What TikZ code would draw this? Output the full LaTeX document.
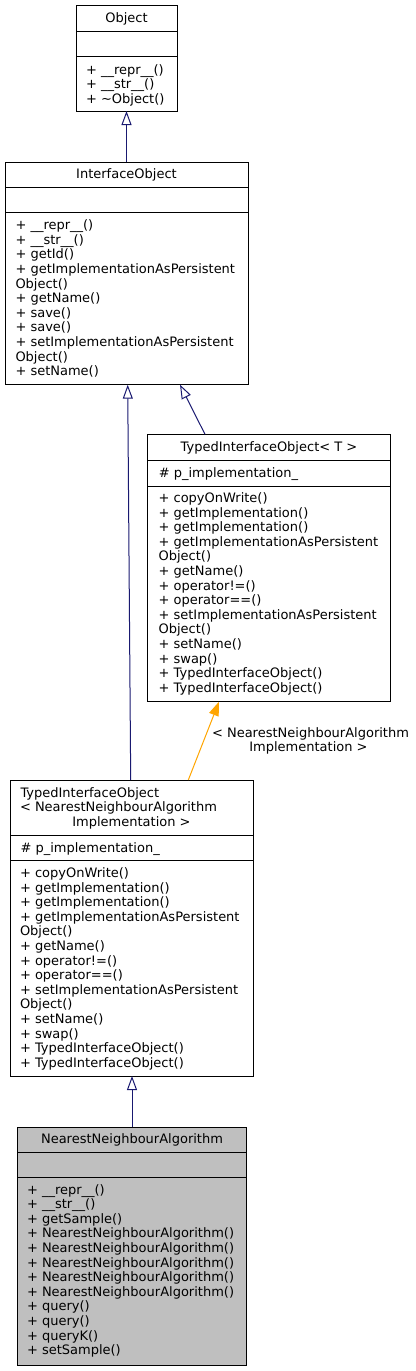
\documentclass[tikz,border=0pt]{standalone}
\usepackage{fontspec}
\setmainfont{DejaVu Sans}
\usetikzlibrary{arrows.meta,fit,calc}
\definecolor{edgeblue}{HTML}{191970}
\definecolor{edgeorange}{HTML}{FFA500}
\definecolor{nnagray}{HTML}{BFBFBF}
\newcommand{\umlfont}{\fontsize{9.75pt}{11pt}\selectfont}
\newcommand{\memberlines}[4]{%
  \foreach \mtext [count=\mi from 0] in {#4} {
    \node[txt] (#1\mi) at (#2, {#3+\mi*14.6}) {\mtext};
  }%
}
\begin{document}
\begin{tikzpicture}[x=0.75pt,y=-0.75pt,
  umlbox/.style={draw=black, line width=0.75pt, inner sep=0pt, outer sep=0pt},
  graybox/.style={umlbox, fill=nnagray},
  txt/.style={anchor=base west, inner sep=0pt, outer sep=0pt, font=\umlfont},
  ctxt/.style={anchor=base, inner sep=0pt, outer sep=0pt, font=\umlfont},
  inherit/.style={draw=edgeblue, line width=0.75pt, -{Triangle[open, length=10.5pt, width=7.5pt]}},
  tmpl/.style={draw=edgeorange, line width=0.75pt, -{Triangle[length=10.5pt, width=7.5pt]}},
]
\useasboundingbox (0,0) rectangle (415,1371);

% ---------- Object ----------
\node[umlbox, fit={(76,5.5) (177,31.7)}] (objt) {};
\node[umlbox, fit={(76,31.7) (177,56.7)}] (obja) {};
\node[umlbox, fit={(76,56.7) (177,111)}] (objm) {};
\node[ctxt] (objtitle) at (126.5,22) {Object};
\memberlines{objl}{86}{74}{+ \_\_repr\_\_(), + \_\_str\_\_(), + \textasciitilde Object()}

% ---------- InterfaceObject ----------
\node[umlbox, fit={(5,162) (248,187.7)}] (iot) {};
\node[umlbox, fit={(5,187.7) (248,212.7)}] (ioa) {};
\node[umlbox, fit={(5,212.7) (248,384.7)}] (iom) {};
\node[ctxt] (iotitle) at (126.5,178.7) {InterfaceObject};
\memberlines{iol}{15.5}{229.7}{+ \_\_repr\_\_(), + \_\_str\_\_(), + getId(), + getImplementationAsPersistent, Object(), + getName(), + save(), + save(), + setImplementationAsPersistent, Object(), + setName()}

% ---------- TypedInterfaceObject< T > ----------
\node[umlbox, fit={(147.3,434.3) (390.7,460.7)}] (tiott) {};
\node[umlbox, fit={(147.3,460.7) (390.7,486)}] (tiota) {};
\node[umlbox, fit={(147.3,486) (390.7,701.7)}] (tiotm) {};
\node[ctxt] (tiottitle) at (269,451.4) {TypedInterfaceObject< T >};
\node[txt] (tiotattr) at (158.8,477.4) {\# p\_implementation\_};
\memberlines{tiotl}{158.6}{502.4}{+ copyOnWrite(), + getImplementation(), + getImplementation(), + getImplementationAsPersistent, Object(), + getName(), + operator!=(), + operator==(), + setImplementationAsPersistent, Object(), + setName(), + swap(), + TypedInterfaceObject(), + TypedInterfaceObject()}

% ---------- TypedInterfaceObject< NearestNeighbourAlgorithmImplementation > ----------
\node[umlbox, fit={(10.7,780) (253.3,835)}] (tionnt) {};
\node[umlbox, fit={(10.7,835) (253.3,860)}] (tionna) {};
\node[umlbox, fit={(10.7,860) (253.3,1076)}] (tionnm) {};
\node[txt] (tionntitlea) at (20.5,797.3) {TypedInterfaceObject};
\node[txt] (tionntitleb) at (20,811.8) {< NearestNeighbourAlgorithm};
\node[ctxt] (tionntitlec) at (131.5,826.2) {Implementation >};
\node[txt] (tionnattr) at (20.5,852) {\# p\_implementation\_};
\memberlines{tionnl}{20}{877.4}{+ copyOnWrite(), + getImplementation(), + getImplementation(), + getImplementationAsPersistent, Object(), + getName(), + operator!=(), + operator==(), + setImplementationAsPersistent, Object(), + setName(), + swap(), + TypedInterfaceObject(), + TypedInterfaceObject()}

% ---------- NearestNeighbourAlgorithm ----------
\node[graybox, fit={(17.3,1127.3) (246.7,1152.3)}] (nnat) {};
\node[graybox, fit={(17.3,1152.3) (246.7,1177.7)}] (nnaa) {};
\node[graybox, fit={(17.3,1177.7) (246.7,1365)}] (nnam) {};
\node[ctxt] (nnatitle) at (132,1143.7) {NearestNeighbourAlgorithm};
\memberlines{nnal}{27}{1194}{+ \_\_repr\_\_(), + \_\_str\_\_(), + getSample(), + NearestNeighbourAlgorithm(), + NearestNeighbourAlgorithm(), + NearestNeighbourAlgorithm(), + NearestNeighbourAlgorithm(), + NearestNeighbourAlgorithm(), + query(), + query(), + queryK(), + setSample()}

% ---------- Connectors ----------
\draw[inherit] (iot.north) -- (objm.south);
\draw[inherit] ($(tionnt.north west)+(120,0)$) -- ($(iom.south west)+(122.7,0)$);
\draw[inherit] ($(tiott.north west)+(57.7,0)$) -- ($(iom.south west)+(175,0)$);
\draw[tmpl] ($(tionnt.north west)+(177.6,0)$) -- ($(tiotm.south west)+(71.7,0)$);
\draw[inherit] (nnat.north) -- (tionnm.south);

\node[ctxt] (lbla) at (310.5,737) {< NearestNeighbourAlgorithm};
\node[ctxt] (lblb) at (308.5,751.7) {Implementation >};
\end{tikzpicture}
\end{document}
